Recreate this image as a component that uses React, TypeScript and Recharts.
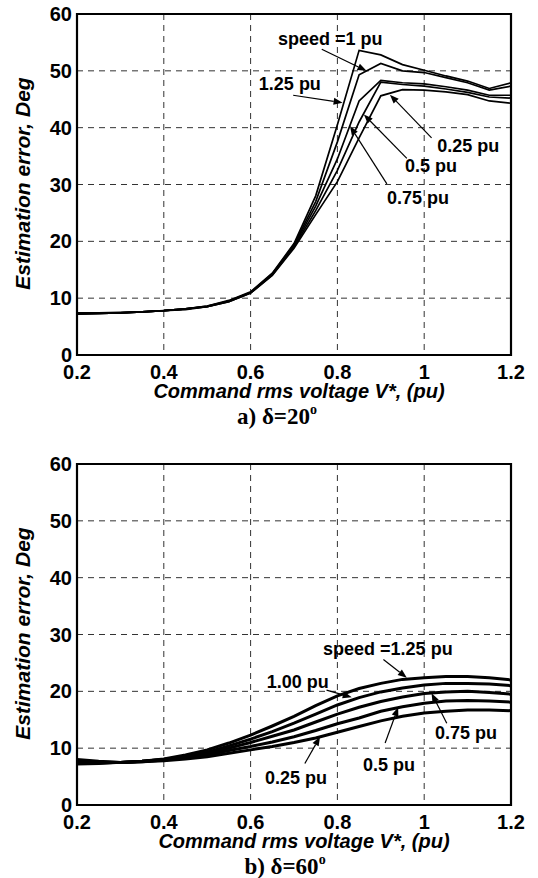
import React from 'react';
import {
  LineChart,
  Line,
  XAxis,
  YAxis,
  CartesianGrid,
  ReferenceArea,
  ReferenceLine,
  ReferenceDot,
} from 'recharts';

// ---------- data ----------
const VOLTAGE = [0.2, 0.25, 0.3, 0.35, 0.4, 0.45, 0.5, 0.55, 0.6, 0.65, 0.7, 0.75, 0.8, 0.85, 0.9, 0.95, 1.0, 1.05, 1.1, 1.15, 1.2];
const X_TICKS = [0.2, 0.4, 0.6, 0.8, 1, 1.2];
const Y_TICKS = [0, 10, 20, 30, 40, 50, 60];

// a) delta = 20 deg
const A_SPEED_125 = [7.2, 7.3, 7.4, 7.6, 7.8, 8.1, 8.6, 9.6, 11.1, 14.4, 19.6, 28.0, 40.5, 53.6, 52.8, 51.1, 50.1, 49.1, 48.2, 46.9, 47.9];
const A_SPEED_100 = [7.2, 7.3, 7.4, 7.6, 7.8, 8.1, 8.6, 9.5, 11.0, 14.3, 19.4, 27.0, 37.5, 49.3, 51.3, 50.0, 49.7, 48.8, 47.9, 46.6, 47.3];
const A_SPEED_075 = [7.3, 7.3, 7.4, 7.6, 7.8, 8.1, 8.5, 9.5, 11.0, 14.2, 19.2, 26.2, 34.5, 44.7, 48.3, 47.9, 47.7, 47.2, 46.6, 45.7, 45.7];
const A_SPEED_050 = [7.3, 7.3, 7.4, 7.6, 7.8, 8.1, 8.5, 9.4, 10.9, 14.1, 19.0, 25.4, 32.5, 41.0, 48.0, 47.6, 47.3, 46.8, 46.2, 45.4, 45.2];
const A_SPEED_025 = [7.4, 7.4, 7.5, 7.6, 7.8, 8.0, 8.5, 9.4, 10.9, 14.0, 18.8, 24.7, 30.5, 38.2, 45.6, 46.7, 46.6, 46.3, 45.8, 44.7, 44.3];

// b) delta = 60 deg
const B_SPEED_125 = [7.2, 7.3, 7.5, 7.7, 8.1, 8.8, 9.7, 10.9, 12.3, 13.9, 15.6, 17.5, 19.2, 20.5, 21.4, 22.1, 22.4, 22.6, 22.6, 22.4, 22.0];
const B_SPEED_100 = [7.4, 7.4, 7.5, 7.7, 8.0, 8.6, 9.3, 10.4, 11.6, 12.9, 14.4, 16.0, 17.6, 18.9, 19.9, 20.6, 21.1, 21.4, 21.4, 21.3, 21.0];
const B_SPEED_075 = [7.6, 7.5, 7.5, 7.7, 8.0, 8.4, 9.0, 10.0, 11.0, 12.1, 13.2, 14.6, 16.0, 17.2, 18.2, 19.0, 19.6, 19.9, 20.0, 19.8, 19.5];
const B_SPEED_050 = [7.8, 7.6, 7.5, 7.6, 7.9, 8.3, 8.8, 9.6, 10.3, 11.1, 12.0, 13.1, 14.3, 15.3, 16.5, 17.3, 17.9, 18.3, 18.4, 18.3, 18.1];
const B_SPEED_025 = [8.0, 7.7, 7.5, 7.6, 7.8, 8.1, 8.5, 9.1, 9.7, 10.3, 11.0, 11.8, 12.8, 13.8, 14.8, 15.6, 16.2, 16.5, 16.7, 16.7, 16.6];

const SERIES_KEYS = ['s125', 's100', 's075', 's050', 's025'];

// annotations (data units): text left/center, arrow tail -> tip
const A_NOTES = [
  { label: 'speed =1 pu', tx: 0.663, ty: 55.7, x1: 0.764, y1: 53.8, x2: 0.867, y2: 50.0 },
  { label: '1.25 pu', tx: 0.619, ty: 47.8, x1: 0.698, y1: 45.7, x2: 0.812, y2: 44.4 },
  { label: '0.25 pu', tx: 1.03, ty: 36.9, x1: 1.017, y1: 38.2, x2: 0.921, y2: 45.8 },
  { label: '0.5 pu', tx: 0.956, ty: 33.3, x1: 0.96, y1: 34.6, x2: 0.861, y2: 42.3 },
  { label: '0.75 pu', tx: 0.914, ty: 27.7, x1: 0.914, y1: 30.1, x2: 0.829, y2: 40.3 },
];
const B_NOTES = [
  { label: 'speed =1.25 pu', tx: 0.767, ty: 27.6, x1: 0.906, y1: 25.6, x2: 0.96, y2: 22.4 },
  { label: '1.00 pu', tx: 0.637, ty: 21.7, x1: 0.775, y1: 20.2, x2: 0.833, y2: 18.95 },
  { label: '0.75 pu', tx: 1.025, ty: 12.7, x1: 1.052, y1: 14.4, x2: 1.017, y2: 19.65 },
  { label: '0.5 pu', tx: 0.859, ty: 7.2, x1: 0.91, y1: 10.9, x2: 0.94, y2: 17.2 },
  { label: '0.25 pu', tx: 0.633, ty: 4.75, x1: 0.725, y1: 7.3, x2: 0.76, y2: 12.0 },
];

const build = (cols: number[][]) =>
  VOLTAGE.map((x, i) => {
    const row: any = { x };
    SERIES_KEYS.forEach((k, j) => (row[k] = cols[j][i]));
    return row;
  });

const DATA_A = build([A_SPEED_125, A_SPEED_100, A_SPEED_075, A_SPEED_050, A_SPEED_025]);
const DATA_B = build([B_SPEED_125, B_SPEED_100, B_SPEED_075, B_SPEED_050, B_SPEED_025]);

// ---------- styling ----------
const SANS = "'Liberation Sans', Arial, Helvetica, sans-serif";
const SERIF = "'Liberation Serif', 'Times New Roman', serif";
const tickStyle = { fontSize: 20, fontWeight: 'bold', fill: '#000', fontFamily: SANS };

const Arrow = (p: any) => {
  const { x1, y1, x2, y2 } = p;
  const dx = x2 - x1;
  const dy = y2 - y1;
  const len = Math.sqrt(dx * dx + dy * dy) || 1;
  const ux = dx / len;
  const uy = dy / len;
  const L = 9;
  const W = 3.5;
  const bx = x2 - ux * L;
  const by = y2 - uy * L;
  const pts = `${x2},${y2} ${bx - uy * W},${by + ux * W} ${bx + uy * W},${by - ux * W}`;
  return (
    <g>
      <line x1={x1} y1={y1} x2={bx} y2={by} stroke="#000" strokeWidth={1.2} />
      <polygon points={pts} fill="#000" />
    </g>
  );
};

const makeText = (label: string) => (p: any) => (
  <text
    x={p.cx}
    y={p.cy}
    dy="0.36em"
    fontSize={18}
    fontWeight="bold"
    fontFamily={SANS}
    fill="#000"
  >
    {label}
  </text>
);

type PanelProps = { data: any[]; notes: any[]; width: number; height: number; lineWidth: number };

const Panel = ({ data, notes, width, height, lineWidth }: PanelProps) => (
  <LineChart
    width={width}
    height={height}
    data={data}
    margin={{ top: 14, right: 27, bottom: height - 14 - 341 - 30, left: 17 }}
  >
    <CartesianGrid stroke="#333" strokeDasharray="6 5" strokeWidth={1} />
    <XAxis
      dataKey="x"
      type="number"
      domain={[0.2, 1.2]}
      ticks={X_TICKS}
      interval={0}
      tickFormatter={(v: number) => String(v)}
      axisLine={false}
      tickLine={false}
      tickSize={0}
      tickMargin={10}
      height={30}
      tick={tickStyle}
    />
    <YAxis
      type="number"
      domain={[0, 60]}
      ticks={Y_TICKS}
      interval={0}
      axisLine={false}
      tickLine={false}
      tickSize={0}
      tickMargin={5}
      width={60}
      tick={tickStyle}
    />
    {SERIES_KEYS.map((k) => (
      <Line
        key={k}
        dataKey={k}
        type="linear"
        stroke="#000"
        strokeWidth={lineWidth}
        dot={false}
        activeDot={false}
        isAnimationActive={false}
      />
    ))}
    <ReferenceArea
      x1={0.2}
      x2={1.2}
      y1={0}
      y2={60}
      fill="none"
      fillOpacity={0}
      stroke="#000"
      strokeWidth={2.2}
      ifOverflow="visible"
    />
    {notes.map((n, i) => (
      <ReferenceLine
        key={'a' + i}
        segment={[
          { x: n.x1, y: n.y1 },
          { x: n.x2, y: n.y2 },
        ]}
        ifOverflow="visible"
        shape={Arrow}
      />
    ))}
    {notes.map((n, i) => (
      <ReferenceDot key={'t' + i} x={n.tx} y={n.ty} r={0} ifOverflow="visible" shape={makeText(n.label)} />
    ))}
  </LineChart>
);

const Caption = ({ x, y, text }: { x: number; y: number; text: string }) => (
  <text x={x} y={y} textAnchor="middle" fontFamily={SERIF} fontWeight="bold" fontSize={23} fill="#000">
    {text}
    <tspan dy={-10} fontSize={14}>
      o
    </tspan>
  </text>
);

const AxisTexts = ({ offsetY, titleX, captionX, caption }: any) => (
  <g>
    <text
      transform={`translate(30,${183.5 + offsetY}) rotate(-90)`}
      textAnchor="middle"
      fontFamily={SANS}
      fontWeight="bold"
      fontStyle="italic"
      fontSize={21}
      fill="#000"
    >
      Estimation error, Deg
    </text>
    <text
      x={titleX}
      y={398 + offsetY}
      textAnchor="middle"
      fontFamily={SANS}
      fontWeight="bold"
      fontStyle="italic"
      fontSize={20}
      fill="#000"
    >
      Command rms voltage V*, (pu)
    </text>
    <Caption x={captionX} y={424 + offsetY} text={caption} />
  </g>
);

export default function App() {
  return (
    <div
      style={{
        position: 'absolute',
        left: 0,
        top: 0,
        width: 538,
        height: 878,
        overflow: 'hidden',
        background: '#fff',
      }}
    >
      <div style={{ position: 'absolute', left: 0, top: 0 }}>
        <Panel data={DATA_A} notes={A_NOTES} width={538} height={430} lineWidth={1.7} />
      </div>
      <div style={{ position: 'absolute', left: 0, top: 450 }}>
        <Panel data={DATA_B} notes={B_NOTES} width={538} height={428} lineWidth={3} />
      </div>
      <svg
        width={538}
        height={878}
        style={{ position: 'absolute', left: 0, top: 0, pointerEvents: 'none' }}
      >
        <AxisTexts offsetY={0} titleX={299} captionX={277} caption="a) δ=20" />
        <AxisTexts offsetY={450} titleX={304} captionX={285} caption="b) δ=60" />
      </svg>
    </div>
  );
}
